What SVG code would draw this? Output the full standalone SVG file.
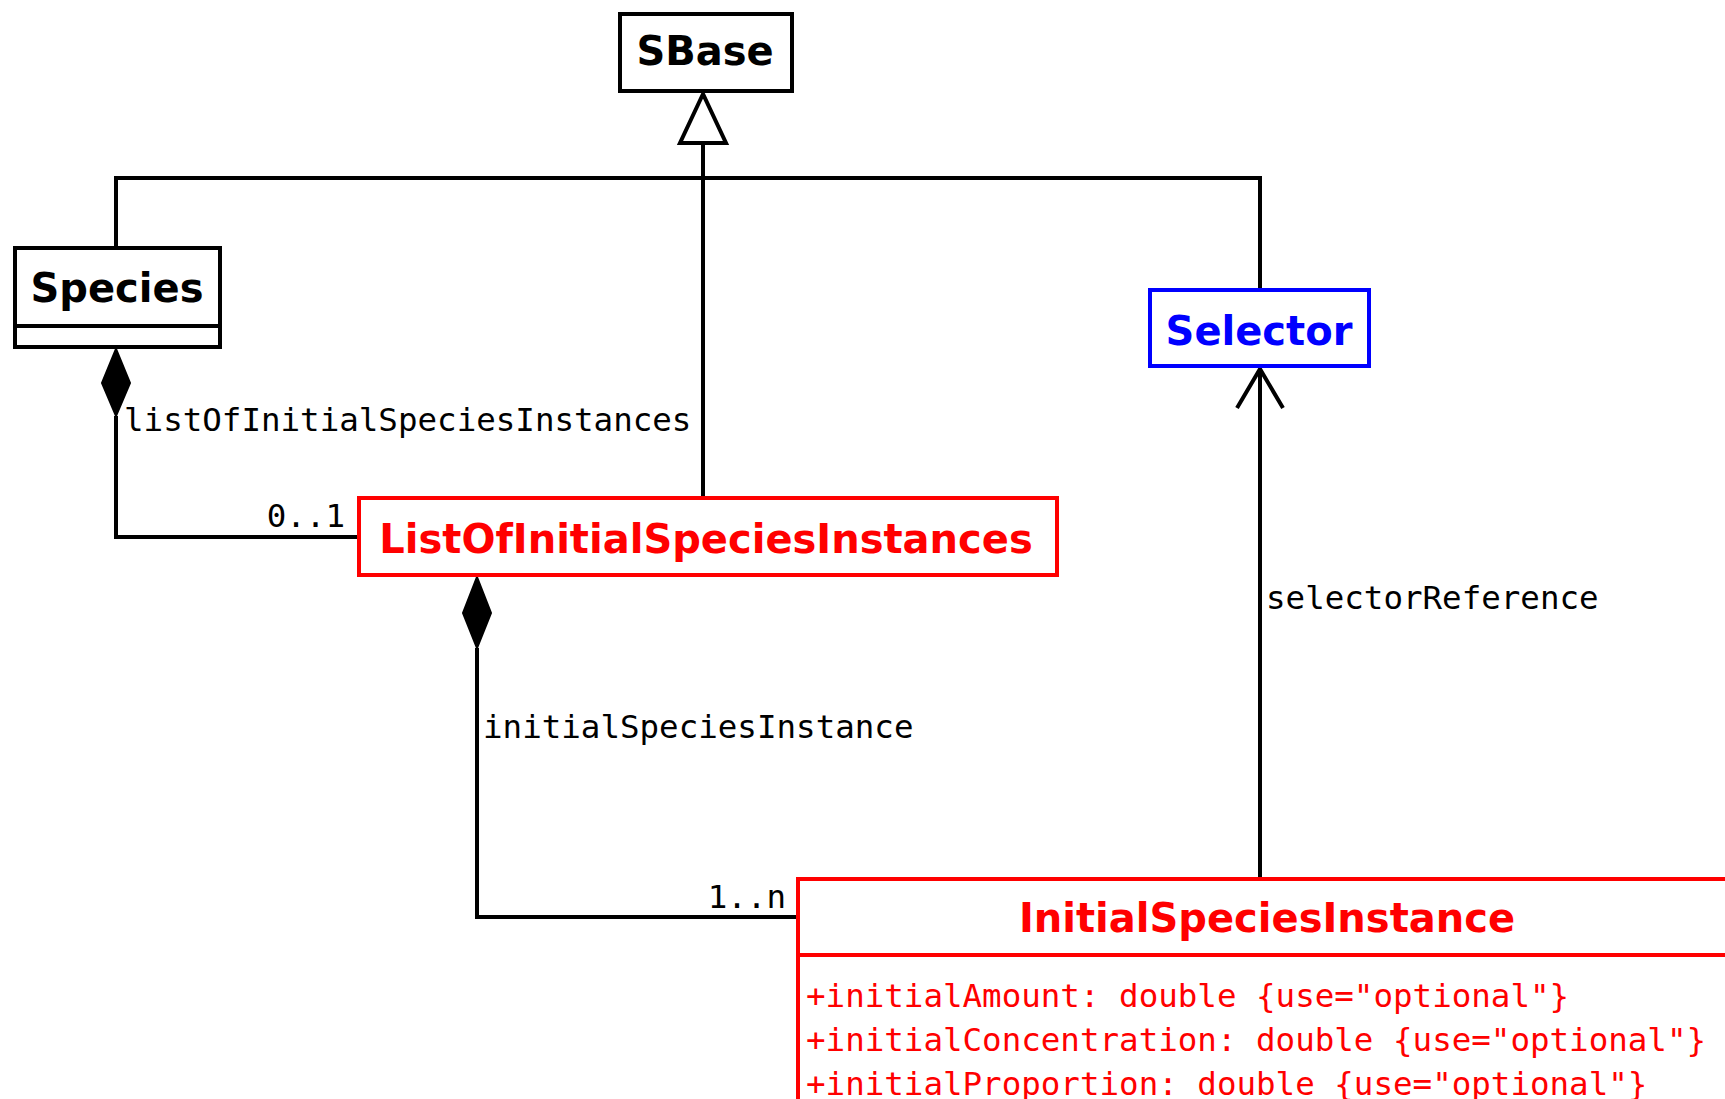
<svg xmlns="http://www.w3.org/2000/svg" width="1725" height="1099" viewBox="0 0 1725 1099">
<style>
.box{fill:#fff;stroke:#000;stroke-width:4}
.red{stroke:#f00}
.blue{stroke:#00f}
.title{font-family:"DejaVu Sans",Verdana,sans-serif;font-weight:bold;font-size:40px;text-anchor:middle}
.mono{font-family:"DejaVu Sans Mono","Liberation Mono",monospace;font-size:32.5px}
.line{fill:none;stroke:#000;stroke-width:4}
</style>
<rect width="1725" height="1099" fill="#fff"/>
<g id="connectors">
  <polyline class="line" points="116,246 116,178 1260,178 1260,288"/>
  <line class="line" x1="703" y1="143" x2="703" y2="497"/>
  <polygon points="703,94 680,143 726,143" fill="#fff" stroke="#000" stroke-width="4"/>
  <polyline class="line" points="116,416 116,537 357,537"/>
  <polygon points="116,349 130,383 116,416 102,383" fill="#000" stroke="#000" stroke-width="2"/>
  <polyline class="line" points="477,648 477,917 796,917"/>
  <polygon points="477,577 491,613 477,648 463,613" fill="#000" stroke="#000" stroke-width="2"/>
  <line class="line" x1="1260" y1="877" x2="1260" y2="369"/>
  <polyline class="line" points="1237,408 1260,369 1283,408"/>
  <text class="mono" x="124" y="431">listOfInitialSpeciesInstances</text>
  <text class="mono" x="345" y="527" text-anchor="end">0..1</text>
  <text class="mono" x="483" y="738">initialSpeciesInstance</text>
  <text class="mono" x="786" y="908" text-anchor="end">1..n</text>
  <text class="mono" x="1266" y="609">selectorReference</text>
</g>
<g id="SBase">
  <rect class="box" x="620" y="14" width="172" height="77"/>
  <text class="title" x="705" y="65">SBase</text>
</g>
<g id="Species">
  <rect class="box" x="15" y="248" width="205" height="99"/>
  <line x1="15" y1="326" x2="220" y2="326" stroke="#000" stroke-width="4"/>
  <text class="title" x="117" y="302">Species</text>
</g>
<g id="Selector">
  <rect class="box blue" x="1150" y="290" width="219" height="76"/>
  <text class="title" x="1259" y="345" fill="#00f">Selector</text>
</g>
<g id="ListOfInitialSpeciesInstances">
  <rect class="box red" x="359" y="498" width="698" height="77"/>
  <text class="title" x="706" y="553" fill="#f00">ListOfInitialSpeciesInstances</text>
</g>
<g id="InitialSpeciesInstance">
  <rect class="box red" x="798" y="879" width="942" height="260"/>
  <line x1="798" y1="955" x2="1740" y2="955" stroke="#f00" stroke-width="4"/>
  <text class="title" x="1267" y="932" fill="#f00">InitialSpeciesInstance</text>
  <text class="mono" x="806" y="1007" fill="#f00">+initialAmount: double {use="optional"}</text>
  <text class="mono" x="806" y="1051" fill="#f00">+initialConcentration: double {use="optional"}</text>
  <text class="mono" x="806" y="1095" fill="#f00">+initialProportion: double {use="optional"}</text>
</g>
</svg>
